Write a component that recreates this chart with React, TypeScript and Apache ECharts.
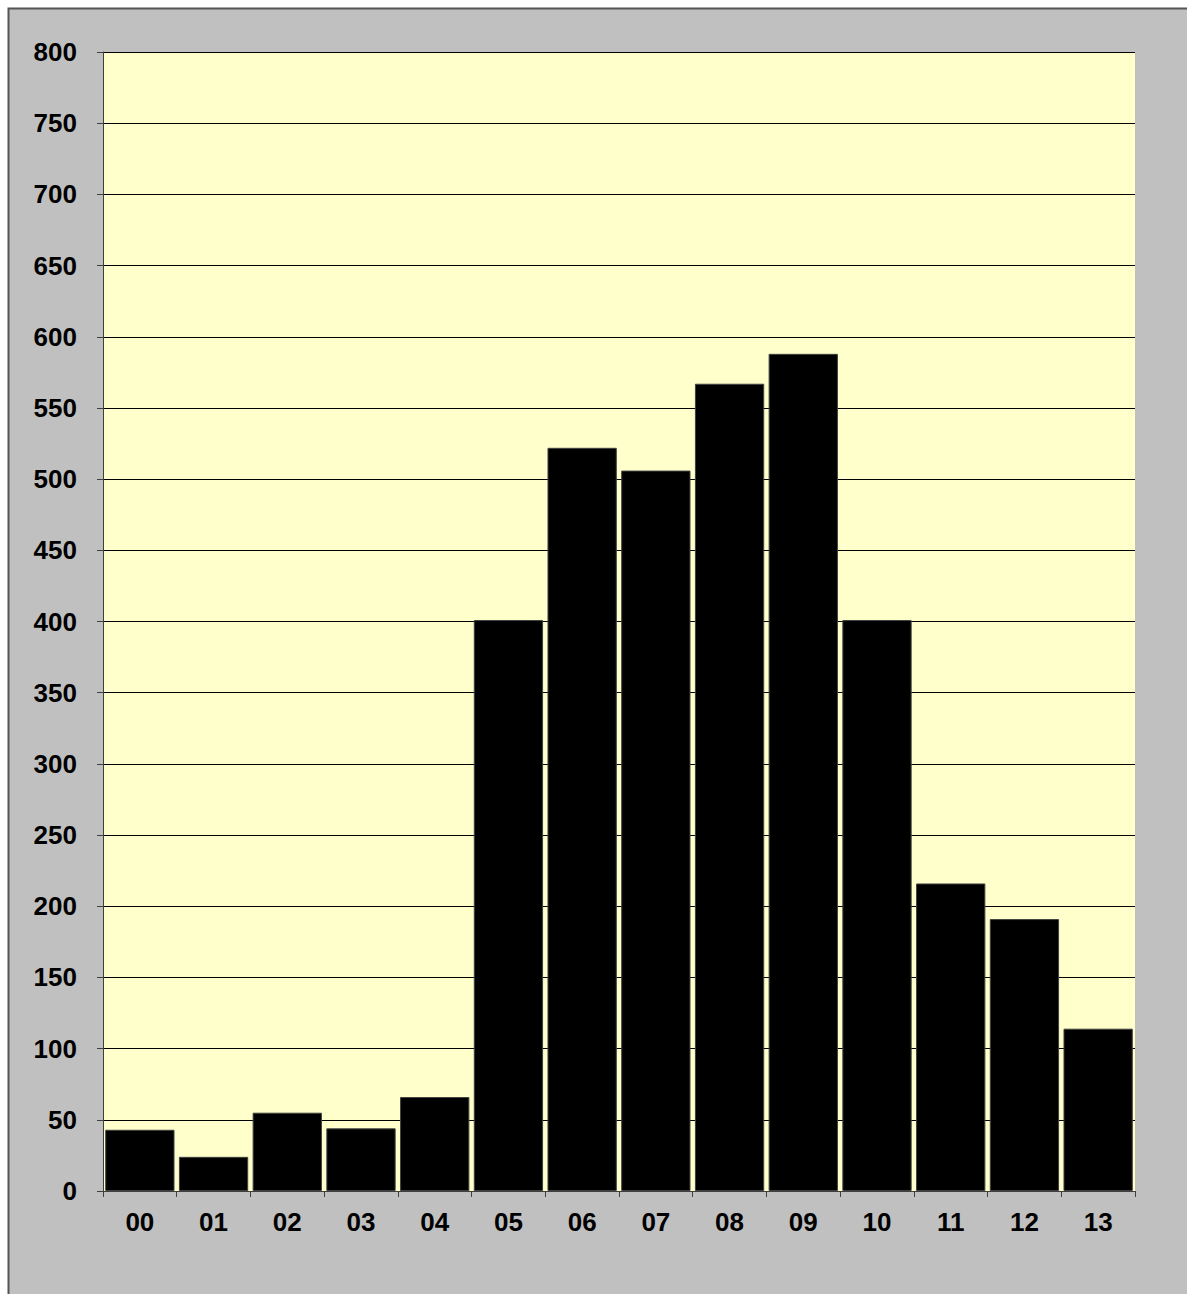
import React, { useEffect, useRef } from "react";
import * as echarts from "echarts";

const categories = ["00", "01", "02", "03", "04", "05", "06", "07", "08", "09", "10", "11", "12", "13"];
const values = [43, 24, 55, 44, 66, 401, 522, 506, 567, 588, 401, 216, 191, 114];
const yMin = 0;
const yMax = 800;
const yInterval = 50;

export default function App() {
  const ref = useRef<HTMLDivElement>(null);
  useEffect(() => {
    document.body.style.margin = "0";
    const chart = echarts.init(ref.current!, null, { renderer: "svg" });
    const font = "'Liberation Sans', Arial, sans-serif";
    chart.setOption({
      animation: false,
      backgroundColor: "#ffffff",
      graphic: [
        {
          type: "rect",
          z: -10,
          silent: true,
          shape: { x: 8.5, y: 8.5, width: 1300, height: 1400 },
          style: { fill: "#C0C0C0", stroke: "#555555", lineWidth: 2 },
        },
      ],
      grid: {
        left: 103,
        top: 52,
        right: 52,
        bottom: 103,
        show: true,
        backgroundColor: "#FFFFCC",
        borderWidth: 0,
      },
      xAxis: {
        type: "category",
        data: categories,
        boundaryGap: true,
        axisLine: { show: true, lineStyle: { color: "#404040", width: 1 } },
        axisTick: { show: true, length: 6, alignWithLabel: false, lineStyle: { color: "#404040" } },
        axisLabel: { color: "#000", fontSize: 26, fontWeight: "bold", fontFamily: font, margin: 18 },
        splitLine: { show: false },
      },
      yAxis: {
        type: "value",
        min: yMin,
        max: yMax,
        interval: yInterval,
        axisLine: { show: true, lineStyle: { color: "#404040", width: 1 } },
        axisTick: { show: true, length: 6, lineStyle: { color: "#404040" } },
        axisLabel: { color: "#000", fontSize: 26, fontWeight: "bold", fontFamily: font, margin: 26 },
        splitLine: { show: true, lineStyle: { color: "#000", width: 1 } },
      },
      series: [
        {
          type: "bar",
          data: values,
          barCategoryGap: "6%",
          itemStyle: { color: "#000000", borderColor: "#404040", borderWidth: 1 },
        },
      ],
    });
    return () => chart.dispose();
  }, []);
  return <div ref={ref} style={{ width: 1187, height: 1294 }} />;
}
